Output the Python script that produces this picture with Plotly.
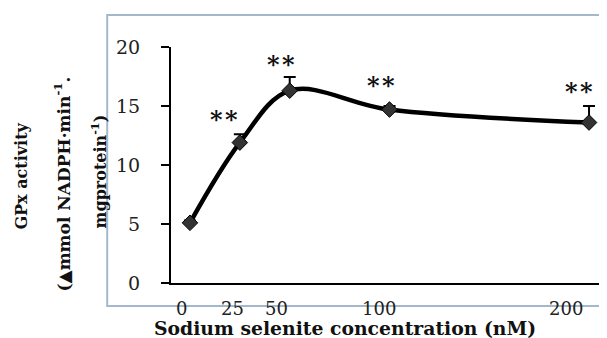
import plotly.graph_objects as go

# ---- data ----
concentrations = [0, 25, 50, 100, 200]          # nM
gpx_activity = [5.1, 11.9, 16.3, 14.7, 13.6]     # mmol NADPH/min/mg protein
gpx_error = [0.2, 0.7, 1.15, 0.3, 1.4]
significance = ["", "**", "**", "**", "**"]
x_tick_labels = ["0", "25", "50", "100", "200"]
y_tick_values = [0, 5, 10, 15, 20]

# ---- styling ----
# the page body has an 8px default margin, so the figure is 8px smaller
W, H = 599, 330
L, R, T, B = 163, 2, 39, 55
serif = "DejaVu Serif, Liberation Serif, serif"
frame_color = "#a3b9cb"
label_xshift = [-8, -7, -13, -11, -23]
star_xshift = [0, -16, -9, -9, -10]
star_yshift = [0, -2, -4, 4, -2]

fig = go.Figure()
fig.add_trace(go.Scatter(
    x=concentrations, y=gpx_activity,
    mode="lines+markers",
    line=dict(color="black", width=4.5, shape="spline", smoothing=1.0),
    marker=dict(symbol="diamond", size=12, color="#333333",
                line=dict(color="black", width=1)),
    error_y=dict(type="data", array=gpx_error, arrayminus=[0] * len(gpx_error),
                 color="black", thickness=2, width=6),
    cliponaxis=False,
    showlegend=False,
))

annotations = []
# significance stars
for xv, yv, ev, s, dx, dy in zip(concentrations, gpx_activity, gpx_error,
                                 significance, star_xshift, star_yshift):
    if s:
        annotations.append(dict(x=xv, y=yv + ev, xref="x", yref="y",
                                text="<b>" + s.replace("**", "*\u200a*") + "</b>",
                                showarrow=False, xshift=dx, yshift=dy,
                                yanchor="bottom",
                                font=dict(family=serif, size=24, color="#111")))
# x tick labels (offset as in the original)
for xv, lab, dx in zip(concentrations, x_tick_labels, label_xshift):
    annotations.append(dict(x=xv, y=-0.106, xref="x", yref="paper", text=lab,
                            showarrow=False, xshift=dx, yanchor="middle",
                            font=dict(family=serif, size=18, color="#222")))
# x title
annotations.append(dict(x=0.401, y=-0.19, xref="paper", yref="paper",
                        text="<b>Sodium selenite concentration (nM)</b>",
                        showarrow=False, yanchor="middle",
                        font=dict(family=serif, size=18.8, color="#111")))
# y title (three lines)
ytitle_lines = ["<b>GPx activity</b>",
                "<b>(▲mmol NADPH·min<sup>-1</sup>.</b>",
                "<b>mgprotein<sup>-1</sup>)</b>"]
ytitle_x = [-0.3433, -0.2512, -0.1636]
ytitle_y = [0.451, 0.4216, 0.4725]
ytitle_size = [16, 17, 16]
for txt, xx, yy, fs in zip(ytitle_lines, ytitle_x, ytitle_y, ytitle_size):
    annotations.append(dict(x=xx, y=yy, xref="paper", yref="paper", text=txt,
                            showarrow=False, textangle=-90,
                            xanchor="center", yanchor="middle",
                            font=dict(family=serif, size=fs, color="#111")))

fig.update_layout(
    width=W, height=H, autosize=False,
    margin=dict(l=L, r=R, t=T, b=B, pad=0),
    paper_bgcolor="white", plot_bgcolor="white",
    annotations=annotations,
    shapes=[dict(type="rect", xref="paper", yref="paper",
                 x0=-0.147, x1=0.998, y0=-0.0975, y1=1.136,
                 line=dict(color=frame_color, width=2), layer="below")],
    xaxis=dict(range=[-9.5, 208], showline=True, linecolor="black", linewidth=2,
               showgrid=False, zeroline=False, ticks="", showticklabels=False),
    yaxis=dict(range=[0, 20], tickvals=y_tick_values, showline=True,
               linecolor="black", linewidth=2, showgrid=False, zeroline=False,
               ticks="outside", ticklen=8, tickwidth=2, tickcolor="black",
               ticklabelstandoff=17,
               tickfont=dict(family=serif, size=19, color="#222")),
)

fig.write_html("out.html")
